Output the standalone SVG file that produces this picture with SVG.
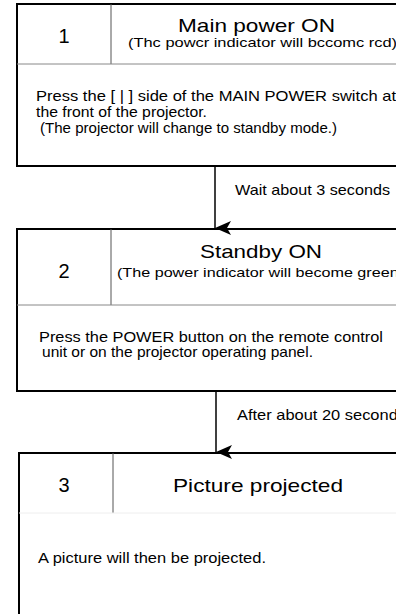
<svg xmlns="http://www.w3.org/2000/svg" width="396" height="614" viewBox="0 0 396 614">
<style>
.box{fill:#fff;stroke:#000;stroke-width:2}
.vdiv{stroke:#555;stroke-width:1}
.hdiv{stroke:#888;stroke-width:1}
.hdiv3{stroke:#eee;stroke-width:1}
text{font-family:"Liberation Sans",Arial,sans-serif;fill:#000}
.num{font-size:20px;text-anchor:middle}
.title{font-size:19px}
.sub{font-size:13.5px}
.body{font-size:14.5px}
.lbl{font-size:15px}
.conn{stroke:#000;stroke-width:1.5;fill:none}
</style>
<defs>
<marker id="ah" markerWidth="14" markerHeight="16" refX="7" refY="16" orient="auto" markerUnits="userSpaceOnUse" viewBox="0 0 14 16">
<path d="M0,0 L7,4 L14,0 L7,16 Z" fill="#000"/>
</marker>
</defs>
<g id="node1">
<rect class="box" x="17" y="4" width="400" height="162"/>
<line class="vdiv" x1="111" y1="4" x2="111" y2="64"/>
<line class="hdiv" x1="17" y1="64" x2="417" y2="64"/>
<text class="num" x="64" y="43">1</text>
<text class="title" x="178" y="32" textLength="157" lengthAdjust="spacingAndGlyphs">Main power ON</text>
<text class="sub" x="128" y="47" textLength="269" lengthAdjust="spacingAndGlyphs">(Thc powcr indicator will bccomc rcd)</text>
<text class="body" x="36" y="101" textLength="360" lengthAdjust="spacingAndGlyphs">Press the [ | ] side of the MAIN POWER switch at</text>
<text class="body" x="36" y="117" textLength="171" lengthAdjust="spacingAndGlyphs">the front of the projector.</text>
<text class="body" x="40" y="133" textLength="297" lengthAdjust="spacingAndGlyphs">(The projector will change to standby mode.)</text>
</g>
<g id="node2">
<rect class="box" x="17" y="229" width="400" height="162"/>
<line class="vdiv" x1="111" y1="229" x2="111" y2="305"/>
<line class="hdiv" x1="17" y1="305" x2="417" y2="305"/>
<text class="num" x="64" y="278">2</text>
<text class="title" x="200" y="258" textLength="122" lengthAdjust="spacingAndGlyphs">Standby ON</text>
<text class="sub" x="117" y="277" textLength="287" lengthAdjust="spacingAndGlyphs">(The power indicator will become green)</text>
<text class="body" x="39" y="342" textLength="344" lengthAdjust="spacingAndGlyphs">Press the POWER button on the remote control</text>
<text class="body" x="42" y="357" textLength="271" lengthAdjust="spacingAndGlyphs">unit or on the projector operating panel.</text>
</g>
<g id="node3">
<rect class="box" x="19" y="453" width="400" height="180"/>
<line class="vdiv" x1="113" y1="453" x2="113" y2="513"/>
<line class="hdiv3" x1="19" y1="513" x2="419" y2="513"/>
<text class="num" x="64" y="492">3</text>
<text class="title" x="173" y="492" textLength="170" lengthAdjust="spacingAndGlyphs">Picture projected</text>
<text class="body" x="38" y="563" textLength="228" lengthAdjust="spacingAndGlyphs">A picture will then be projected.</text>
</g>
<g id="connectors">
<line class="conn" x1="215" y1="167" x2="215" y2="228" marker-end="url(#ah)"/>
<text class="lbl" x="235" y="195" textLength="155" lengthAdjust="spacingAndGlyphs">Wait about 3 seconds</text>
<line class="conn" x1="216" y1="392" x2="216" y2="452" marker-end="url(#ah)"/>
<text class="lbl" x="237" y="420" textLength="169" lengthAdjust="spacingAndGlyphs">After about 20 seconds</text>
</g>
</svg>
